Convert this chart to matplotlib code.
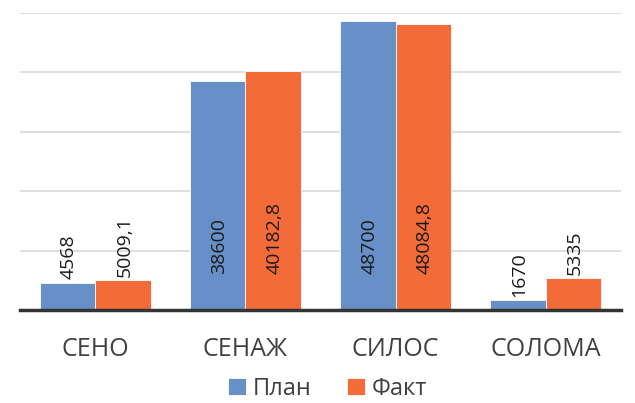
import matplotlib.pyplot as plt
import numpy as np

# Data
categories = ["СЕНО", "СЕНАЖ", "СИЛОС", "СОЛОМА"]
plan = [4568, 38600, 48700, 1670]
fact = [5009.1, 40182.8, 48084.8, 5335]
plan_labels = ["4568", "38600", "48700", "1670"]
fact_labels = ["5009,1", "40182,8", "48084,8", "5335"]

blue = "#6790C8"
orange = "#F26B38"
text_col = "#404040"

plt.rcParams['font.family'] = ['Open Sans', 'DejaVu Sans']

fig = plt.figure(figsize=(6.35, 4.03), dpi=100)
ax = fig.add_axes([20 / 635, 1 - 310 / 403, 601 / 635, 297 / 403])

x = np.arange(len(categories))
w = 0.37
b1 = ax.bar(x - w / 2, plan, w, color=blue, edgecolor="white", linewidth=0.6, label="План", zorder=2)
b2 = ax.bar(x + w / 2, fact, w, color=orange, edgecolor="white", linewidth=0.6, label="Факт", zorder=2)

# rotated data labels; big bars get them near the base, small ones just above the top
for bars, labels in ((b1, plan_labels), (b2, fact_labels)):
    for rect, lab in zip(bars, labels):
        v = rect.get_height()
        ax.annotate(lab, (rect.get_x() + rect.get_width() / 2, min(v, 5400)),
                    xytext=(1, 2.5), textcoords="offset points",
                    rotation=90, ha="center", va="bottom",
                    fontsize=14, color="#1a1a1a", zorder=3)

ax.set_xlim(-0.5, 3.5)
ax.set_ylim(0, 50000)
ax.set_yticks(np.arange(0, 50001, 10000))
ax.yaxis.grid(True, color="#D9D9D9", linewidth=1.2, zorder=0)
ax.set_axisbelow(True)
ax.tick_params(axis="y", left=False, labelleft=False)
ax.tick_params(axis="x", bottom=False, pad=16, labelsize=18, labelcolor=text_col)
ax.set_xticks(x)
ax.set_xticklabels(categories)
for s in ("top", "right", "left"):
    ax.spines[s].set_visible(False)
ax.spines["bottom"].set_color("#333333")
ax.spines["bottom"].set_linewidth(2.5)
ax.spines["bottom"].set_zorder(4)

fig.legend(loc="center", bbox_to_anchor=(328 / 635, 1 - 389 / 403), ncol=2, frameon=False,
           fontsize=17, labelcolor=text_col, handlelength=0.75, handleheight=0.75,
           handletextpad=0.3, columnspacing=1.5)

plt.savefig("out.png", dpi=100)
